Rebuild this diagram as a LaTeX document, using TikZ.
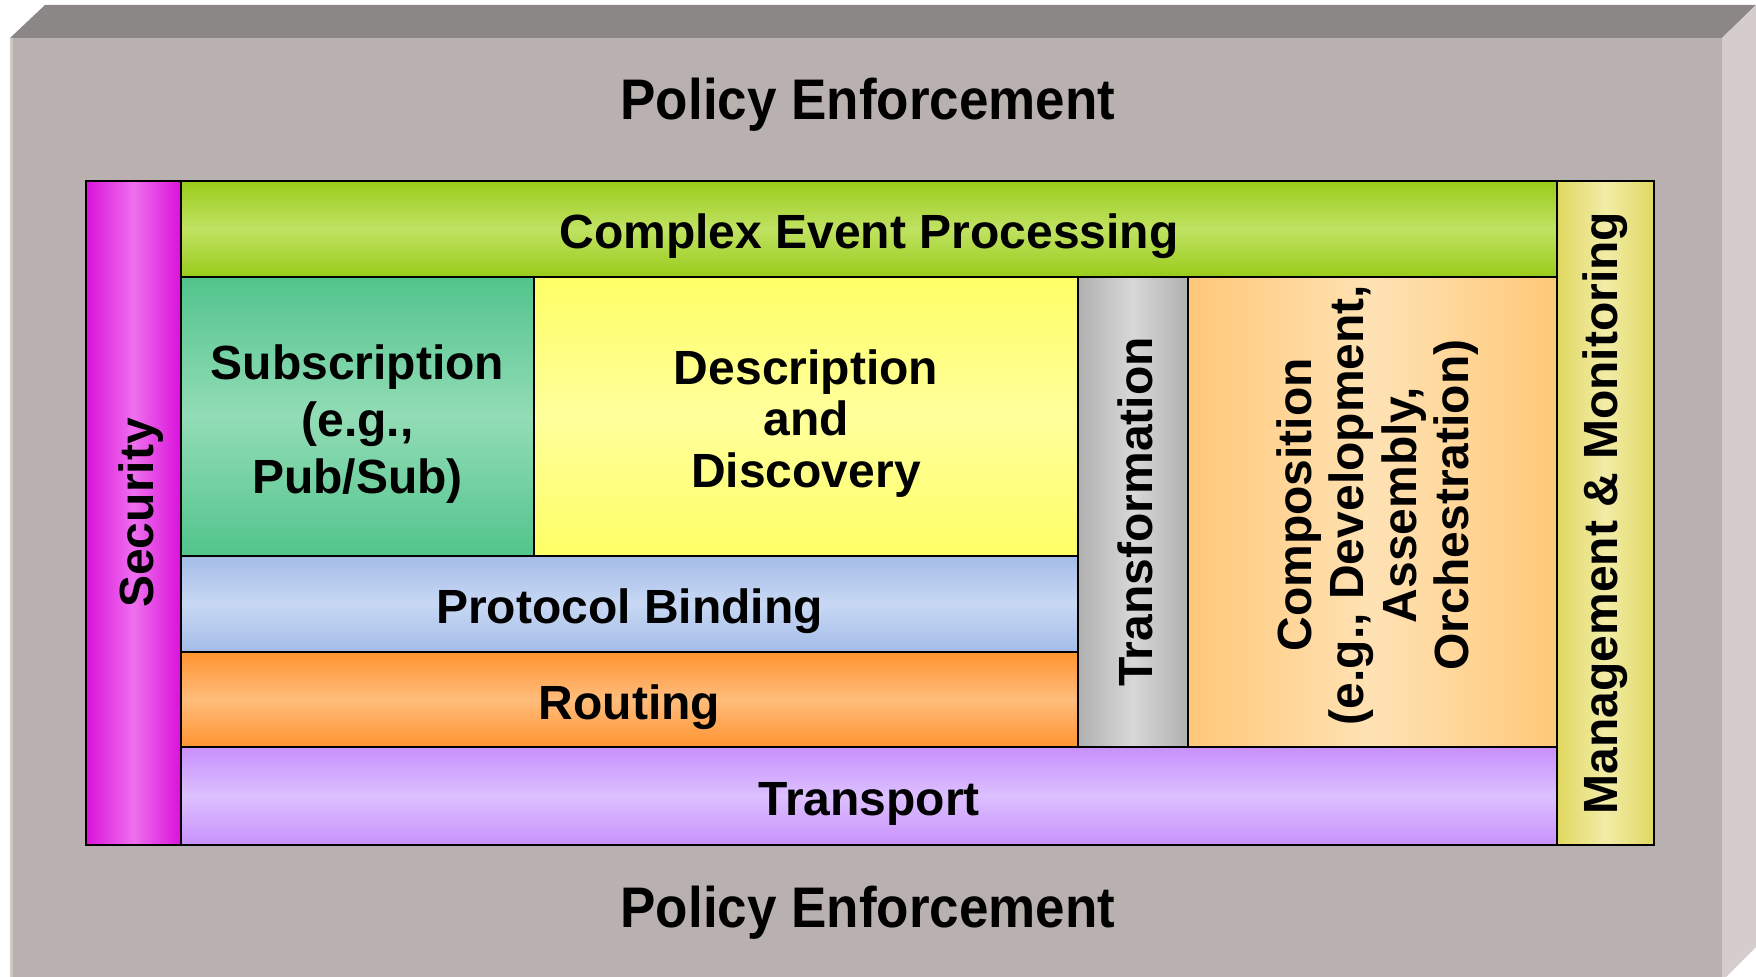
\documentclass[tikz,border=0pt]{standalone}
\usepackage{fontspec}
\setmainfont{Liberation Sans}
\usepackage{graphicx}
\definecolor{slabtop}{RGB}{140,135,135}
\definecolor{slabfront}{RGB}{185,177,176}
\definecolor{slabside}{RGB}{213,205,204}
\definecolor{slabedge}{RGB}{208,200,199}
\definecolor{secE}{RGB}{218,18,218}
\definecolor{secM}{RGB}{238,112,238}
\definecolor{cepE}{RGB}{153,204,26}
\definecolor{cepM}{RGB}{192,226,98}
\definecolor{subE}{RGB}{82,196,140}
\definecolor{subM}{RGB}{146,220,182}
\definecolor{desE}{RGB}{255,255,102}
\definecolor{desM}{RGB}{255,255,156}
\definecolor{proE}{RGB}{164,188,232}
\definecolor{proM}{RGB}{200,216,244}
\definecolor{rouE}{RGB}{255,148,48}
\definecolor{rouM}{RGB}{255,188,124}
\definecolor{traE}{RGB}{200,144,252}
\definecolor{traM}{RGB}{220,192,255}
\definecolor{tfmE}{RGB}{176,176,176}
\definecolor{tfmM}{RGB}{216,216,216}
\definecolor{comE}{RGB}{255,200,120}
\definecolor{comM}{RGB}{255,226,180}
\definecolor{manE}{RGB}{224,216,96}
\definecolor{manM}{RGB}{242,236,168}
\newcommand\lt[2][-4.5pt]{\raisebox{#1}[\height][\depth]{\begin{tabular}{@{}c@{}}#2\end{tabular}}}
\newcommand\layerbox[7]{%
  \node[layer, #6, minimum width={(#4-#2)*0.5pt}, minimum height={(#5-#3)*0.5pt}]
    (#1) at ({(#2+#4)/2},{(#3+#5)/2}) {#7};}
\tikzset{
  layer/.style={draw=black, line width=1.3pt, inner sep=0pt,
    font=\fontsize{24}{27}\selectfont\bfseries},
  vgrad/.style 2 args={top color=#1, bottom color=#1, middle color=#2},
  hgrad/.style 2 args={left color=#1, right color=#1, middle color=#2},
  policy/.style={anchor=base, inner sep=0pt, font=\fontsize{26.5}{30}\selectfont\bfseries},
}
\begin{document}
\begin{tikzpicture}[x=0.5pt, y=-0.5pt]
  \useasboundingbox (0,0) rectangle (1756,977);
  % slab
  \fill[slabtop] (10,38) -- (45,5) -- (1756,5) -- (1722,38) -- cycle;
  \fill[slabside] (1722,38) -- (1756,5) -- (1756,947) -- (1726,977) -- (1722,977) -- cycle;
  \fill[slabfront] (10,38) rectangle (1722,977);
  \fill[slabedge] (10,38) rectangle (13,977);
  % policy texts
  \node[policy] (poltop) at (868,120) {\scalebox{1}[1.08]{Policy Enforcement}};
  \node[policy] (polbot) at (868,927) {\scalebox{1}[1.08]{Policy Enforcement}};
  % layers
  \layerbox{sec}{86}{181}{181}{845}{hgrad={secE}{secM}}{\rotatebox{90}{\lt{Security}}}
  \layerbox{man}{1557}{181}{1654}{845}{hgrad={manE}{manM}}{\rotatebox{90}{\lt[-0.5pt]{Management \& Monitoring}}}
  \layerbox{cep}{181}{181}{1557}{277}{vgrad={cepE}{cepM}}{\lt{Complex Event Processing}}
  \layerbox{sub}{181}{277}{534}{556}{vgrad={subE}{subM}, font=\fontsize{24}{28.5}\selectfont\bfseries}{\lt{Subscription\\(e.g.,\\Pub/Sub)}}
  \layerbox{des}{534}{277}{1078}{556}{vgrad={desE}{desM}, font=\fontsize{24}{25.8}\selectfont\bfseries}{\lt{Description\\and\\Discovery}}
  \layerbox{pro}{181}{556}{1078}{652}{vgrad={proE}{proM}}{\lt{Protocol Binding}}
  \layerbox{rou}{181}{652}{1078}{747}{vgrad={rouE}{rouM}}{\lt{Routing}}
  \layerbox{tfm}{1078}{277}{1188}{747}{hgrad={tfmE}{tfmM}}{\rotatebox{90}{\lt{Transformation}}}
  \layerbox{com}{1188}{277}{1557}{747}{hgrad={comE}{comM}, font=\fontsize{24}{26.3}\selectfont\bfseries}{\rotatebox{90}{\hspace*{7pt}\lt[-3.5pt]{Composition\\(e.g., Development,\\Assembly,\\Orchestration)}}}
  \layerbox{tra}{181}{747}{1557}{845}{vgrad={traE}{traM}}{\lt{Transport}}
\end{tikzpicture}
\end{document}
